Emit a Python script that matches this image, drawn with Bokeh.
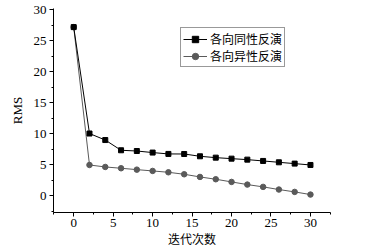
from bokeh.plotting import figure
from bokeh.models import Range1d, SingleIntervalTicker, Legend, LegendItem
from bokeh.embed import file_html
from bokeh.resources import INLINE

iterations = [0, 2, 4, 6, 8, 10, 12, 14, 16, 18, 20, 22, 24, 26, 28, 30]
iso_rms = [27.2, 10.05, 9.0, 7.35, 7.23, 6.98, 6.76, 6.75, 6.38, 6.16, 6.0, 5.84, 5.63, 5.41, 5.2, 4.98]
aniso_rms = [27.2, 4.98, 4.66, 4.45, 4.23, 4.02, 3.8, 3.48, 3.05, 2.68, 2.25, 1.82, 1.45, 1.02, 0.64, 0.21]
series_names = ["各向同性反演", "各向异性反演"]
x_label = "迭代次数"
y_label = "RMS"

p = figure(width=368, height=249, output_backend="svg", toolbar_location=None,
           x_range=Range1d(-2.56, 32.54), y_range=Range1d(-2.68, 30.2),
           min_border_left=53, min_border_right=38, min_border_top=8, min_border_bottom=36)
p.outline_line_color = None
p.grid.visible = False
p.background_fill_color = "white"
p.border_fill_color = "white"

l1 = p.line(iterations, aniso_rms, line_color="#5a5a5a", line_width=1)
s1 = p.scatter(iterations, aniso_rms, marker="circle", size=5.5, fill_color="#5a5a5a", line_color="#5a5a5a")
l0 = p.line(iterations, iso_rms, line_color="black", line_width=1)
s0 = p.scatter(iterations, iso_rms, marker="square", size=5, fill_color="black", line_color="black")

for ax in (p.xaxis[0], p.yaxis[0]):
    ax.ticker = SingleIntervalTicker(interval=5, num_minor_ticks=2)
    ax.major_tick_out = 4
    ax.major_tick_in = 0
    ax.minor_tick_out = 2
    ax.minor_tick_in = 0
    ax.axis_line_color = "black"
    ax.major_tick_line_color = "black"
    ax.minor_tick_line_color = "black"
    ax.major_label_text_font = "Liberation Serif"
    ax.major_label_text_font_size = "13px"
    ax.major_label_text_color = "black"
    ax.axis_label_text_font_style = "normal"
    ax.axis_label_text_color = "black"
    ax.axis_label_text_font_size = "12px"

p.xaxis[0].axis_label = x_label
p.xaxis[0].axis_label_text_font = "Noto Sans CJK SC"
p.xaxis[0].major_label_standoff = 2
p.xaxis[0].axis_label_standoff = 0
p.yaxis[0].axis_label = y_label
p.yaxis[0].axis_label_text_font = "Liberation Serif"
p.yaxis[0].axis_label_text_font_size = "13px"
p.yaxis[0].major_label_standoff = 3
p.yaxis[0].axis_label_standoff = 6

legend = Legend(items=[LegendItem(label=series_names[0], renderers=[l0, s0]),
                       LegendItem(label=series_names[1], renderers=[l1, s1])],
                location=(127, 145))
legend.label_text_font = "Noto Sans CJK SC"
legend.label_text_font_size = "12px"
legend.label_text_color = "black"
legend.border_line_color = "#333333"
legend.border_line_width = 1
legend.background_fill_alpha = 1
legend.padding = 2
legend.spacing = 0
legend.margin = 0
legend.glyph_width = 24
legend.glyph_height = 16
legend.label_height = 16
legend.label_standoff = 3
p.add_layout(legend, "center")

open("out.html", "w").write(file_html(p, INLINE))
